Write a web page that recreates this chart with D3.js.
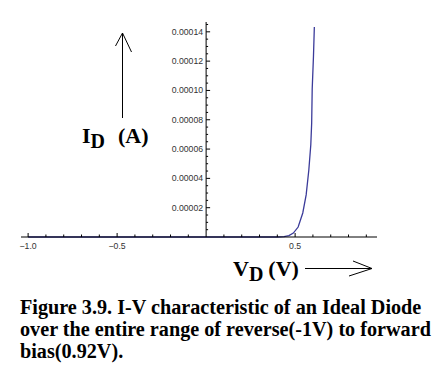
<!DOCTYPE html>
<html>
<head>
	<meta charset="UTF-8">
	<title>Ideal Diode I-V</title>
	<script src="https://cdn.jsdelivr.net/npm/d3@7/dist/d3.min.js"></script>
	<style>
		body { margin: 0; background: #fff; }
		.tick-label { font-family: "Liberation Sans", Arial, sans-serif; font-size: 8.7px; fill: #333; }
		.big { font-family: "Liberation Serif", "Times New Roman", serif; font-weight: bold; fill: #000; }
	</style>
</head>
<body>
<script type="text/javascript">
	// diode curve (volts, amps)
	var voltage = [-1.0, 0.0, 0.40, 0.438, 0.465, 0.490, 0.517, 0.543, 0.562, 0.577, 0.588, 0.593, 0.596, 0.603, 0.608];
	var current = [0, 0, 0, 0.0000003, 0.0000010, 0.0000027, 0.0000068, 0.0000164, 0.0000287, 0.0000457, 0.0000628, 0.0000778, 0.000101, 0.000123, 0.0001433];
	var xMajor = [-1.0, -0.5, 0.5];
	var yMajor = [0.00002, 0.00004, 0.00006, 0.00008, 0.00010, 0.00012, 0.00014];
	var captionLines = ["Figure 3.9. I-V characteristic of an Ideal Diode",
						"over the entire range of reverse(-1V) to forward",
						"bias(0.92V)."];

	var width = 442, height = 373;
	var svg = d3.select("body").append("svg").attr("width", width).attr("height", height);

	var x = d3.scaleLinear().domain([-1.04, 0.96]).range([21, 377]);
	var y = d3.scaleLinear().domain([0, 0.0001467]).range([237, 22]);

	// the curve goes under the axes
	var line = d3.line().x(function(d) { return x(d[0]); }).y(function(d) { return y(d[1]); });
	svg.append("path")
		.datum(d3.zip(voltage, current))
		.attr("d", line)
		.attr("fill", "none")
		.attr("stroke", "#3b3b9a")
		.attr("stroke-width", 1.3);

	// axes
	var x0 = x(0), y0 = y(0);
	svg.append("line").attr("x1", x.range()[0]).attr("x2", x.range()[1]).attr("y1", y0).attr("y2", y0)
		.attr("stroke", "#000").attr("stroke-width", 1);
	svg.append("line").attr("x1", x0).attr("x2", x0).attr("y1", y0).attr("y2", y.range()[1])
		.attr("stroke", "#000").attr("stroke-width", 1);

	// x ticks, minor every 0.1
	d3.range(-10, 10).forEach(function(i) {
		if (i == 0) return;
		var v = i / 10;
		var major = (i % 5 == 0);
		svg.append("line")
			.attr("x1", x(v)).attr("x2", x(v))
			.attr("y1", y0).attr("y2", y0 - (major ? 4 : 2.5))
			.attr("stroke", "#000").attr("stroke-width", 1);
	});
	svg.selectAll(".xlab").data(xMajor).enter().append("text")
		.attr("class", "tick-label")
		.attr("x", function(d) { return x(d); })
		.attr("y", y0 + 12)
		.attr("text-anchor", "middle")
		.text(function(d) { return d3.format(".1f")(d).replace("-", "\u2212"); });

	// y ticks, minor every 0.000005
	d3.range(1, 30).forEach(function(i) {
		var v = i * 0.000005;
		var major = (i % 4 == 0);
		svg.append("line")
			.attr("x1", x0).attr("x2", x0 + (major ? 4 : 2))
			.attr("y1", y(v)).attr("y2", y(v))
			.attr("stroke", "#000").attr("stroke-width", 1);
	});
	svg.selectAll(".ylab").data(yMajor).enter().append("text")
		.attr("class", "tick-label")
		.attr("x", x0 - 3)
		.attr("y", function(d) { return y(d) + 3; })
		.attr("text-anchor", "end")
		.text(function(d) { return d.toFixed(5); });

	// I_D (A) label and arrow
	var iLab = svg.append("text").attr("class", "big").attr("x", 82).attr("y", 143).style("font-size", "22px");
	iLab.append("tspan").text("I");
	iLab.append("tspan").attr("dy", 5).style("font-size", "20px").text("D");
	iLab.append("tspan").attr("dy", -5).attr("dx", 13).text("(A)");

	svg.append("line").attr("x1", 122.5).attr("x2", 122.5).attr("y1", 118).attr("y2", 33)
		.attr("stroke", "#000").attr("stroke-width", 1);
	svg.append("path").attr("d", "M115.5,46 L122.5,33 L131.5,52").attr("fill", "none").attr("stroke", "#000").attr("stroke-width", 1);

	// V_D (V) label and arrow
	var vLab = svg.append("text").attr("class", "big").attr("x", 233).attr("y", 276).style("font-size", "22px");
	vLab.append("tspan").text("V");
	vLab.append("tspan").attr("dy", 5).style("font-size", "20px").text("D");
	vLab.append("tspan").attr("dy", -5).attr("dx", 5).text("(V)");

	svg.append("line").attr("x1", 305).attr("x2", 372).attr("y1", 268.5).attr("y2", 268.5)
		.attr("stroke", "#000").attr("stroke-width", 1);
	svg.append("path").attr("d", "M353,261 L372,268.5 L349,276").attr("fill", "none").attr("stroke", "#000").attr("stroke-width", 1);

	// caption
	svg.selectAll(".cap").data(captionLines).enter().append("text")
		.attr("class", "big")
		.attr("x", 20)
		.attr("y", function(d, i) { return 314 + i * 22; })
		.style("font-size", "20.2px")
		.text(function(d) { return d; });
</script>
</body>
</html>
